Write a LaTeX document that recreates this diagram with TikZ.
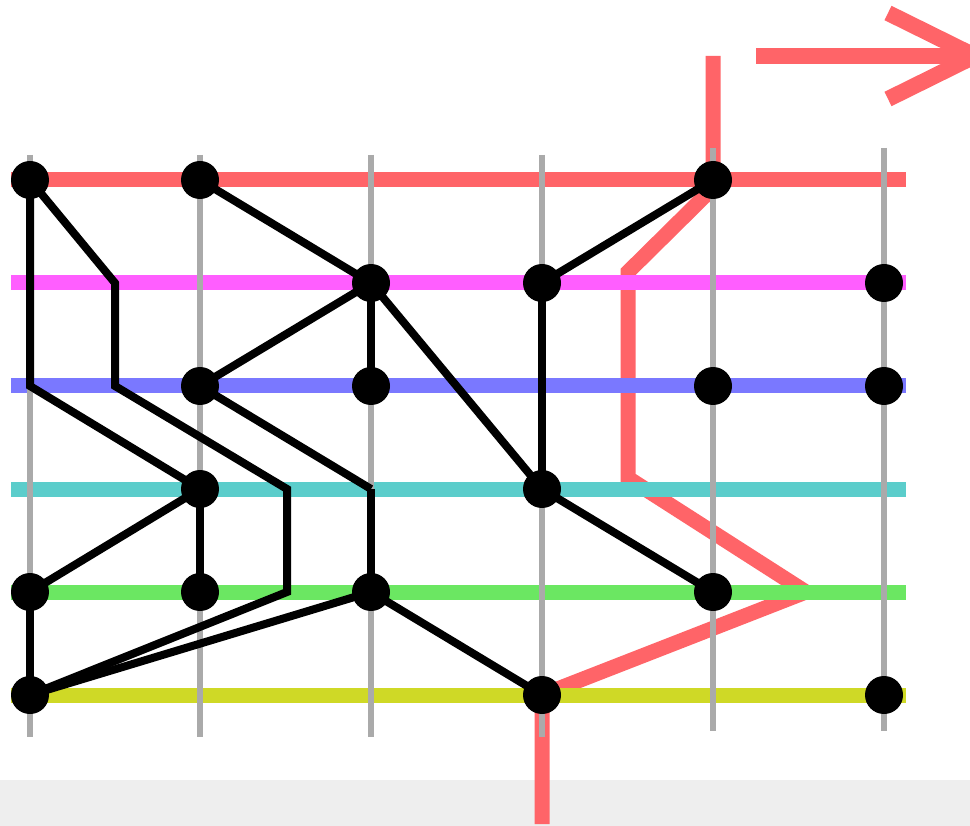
\documentclass[tikz,border=0pt]{standalone}
\definecolor{routered}{HTML}{FF6468}
\definecolor{railmag}{HTML}{FF5EFF}
\definecolor{railblue}{HTML}{7A78FF}
\definecolor{railcyan}{HTML}{5BCDCB}
\definecolor{railgreen}{HTML}{6BE762}
\definecolor{railyellow}{HTML}{CFD926}
\definecolor{gridgray}{HTML}{AAAAAA}
\definecolor{bandgray}{HTML}{EEEEEE}
\pgfdeclarelayer{back}
\pgfdeclarelayer{edges}
\pgfsetlayers{back,edges,main}
\begin{document}
\begin{tikzpicture}[x=1pt,y=-1pt,
  dot/.style={circle,fill=black,inner sep=0pt,minimum size=38pt},
  edge/.style={line width=8pt,draw=black},
  rail/.style={line width=15pt},
  tick/.style={line width=6pt,draw=gridgray},
  route/.style={line width=15pt,draw=routered}]
\useasboundingbox (0,0) rectangle (970,826);
% nodes
\node[dot] (n00) at (30,180) {};
\node[dot] (n01) at (200,180) {};
\node[dot] (n04) at (713,180) {};
\node[dot] (n12) at (371,283) {};
\node[dot] (n13) at (542,283) {};
\node[dot] (n15) at (884,283) {};
\node[dot] (n21) at (200,386) {};
\node[dot] (n22) at (371,386) {};
\node[dot] (n24) at (713,386) {};
\node[dot] (n25) at (884,386) {};
\node[dot] (n31) at (200,489) {};
\node[dot] (n33) at (542,489) {};
\node[dot] (n40) at (30,592) {};
\node[dot] (n41) at (200,592) {};
\node[dot] (n42) at (371,592) {};
\node[dot] (n44) at (713,592) {};
\node[dot] (n50) at (30,695) {};
\node[dot] (n53) at (542,695) {};
\node[dot] (n55) at (884,695) {};
% bend points
\coordinate (b1) at (30,386);
\coordinate (b2) at (115,283);
\coordinate (b3) at (115,386);
\coordinate (b4) at (287,489);
\coordinate (b5) at (287,592);
\coordinate (b6) at (371,489);
\begin{pgfonlayer}{edges}
\draw[edge] (n00.center) -- (b1) -- (n31.center);
\draw[edge] (n00.center) -- (b2) -- (b3) -- (b4) -- (b5) -- (n50.center);
\draw[edge] (n01.center) -- (n12.center);
\draw[edge] (n04.center) -- (n13.center);
\draw[edge] (n12.center) -- (n21.center);
\draw[edge] (n12.center) -- (n22.center);
\draw[edge] (n12.center) -- (n33.center);
\draw[edge] (n13.center) -- (n33.center);
\draw[edge] (n21.center) -- (b6);
\draw[edge] (b6) -- (n42.center);
\draw[edge] (n31.center) -- (n40.center);
\draw[edge] (n31.center) -- (n41.center);
\draw[edge] (n33.center) -- (n44.center);
\draw[edge] (n40.center) -- (n50.center);
\draw[edge] (n42.center) -- (n50.center);
\draw[edge] (n42.center) -- (n53.center);
\end{pgfonlayer}
\begin{pgfonlayer}{back}
\fill[white] (0,0) rectangle (970,826);
\fill[bandgray] (0,780) rectangle (970,826);
% red route
\coordinate (r0) at (713,56);
\coordinate (r1) at (713,188);
\coordinate (r2) at (628,272);
\coordinate (r3) at (628,478);
\coordinate (r4) at (806,592);
\coordinate (r5) at (542,695);
\coordinate (r6) at (542,824);
\draw[route] (r0) -- (r1) -- (r2) -- (r3) -- (r4) -- (r5) -- (r6);
% arrow
\coordinate (a0) at (756,56);
\coordinate (a1) at (975,56);
\coordinate (a2) at (888,13);
\coordinate (a3) at (888,99);
\draw[route,line width=16pt] (a0) -- (a1);
\draw[route,line width=16pt] (a2) -- (a1) -- (a3);
% rails
\draw[rail,draw=routered] (11,180) -- (906,180);
\draw[rail,draw=railmag] (11,283) -- (906,283);
\draw[rail,draw=railblue] (11,386) -- (906,386);
\draw[rail,draw=railcyan] (11,489) -- (906,489);
\draw[rail,draw=railgreen] (11,592) -- (906,592);
\draw[rail,draw=railyellow] (11,695) -- (906,695);
% grid ticks
\draw[tick] (30,155) -- (30,737);
\draw[tick] (200,155) -- (200,737);
\draw[tick] (371,155) -- (371,737);
\draw[tick] (542,155) -- (542,737);
\draw[tick] (713,148) -- (713,731);
\draw[tick] (884,148) -- (884,731);
\end{pgfonlayer}
\end{tikzpicture}
\end{document}
